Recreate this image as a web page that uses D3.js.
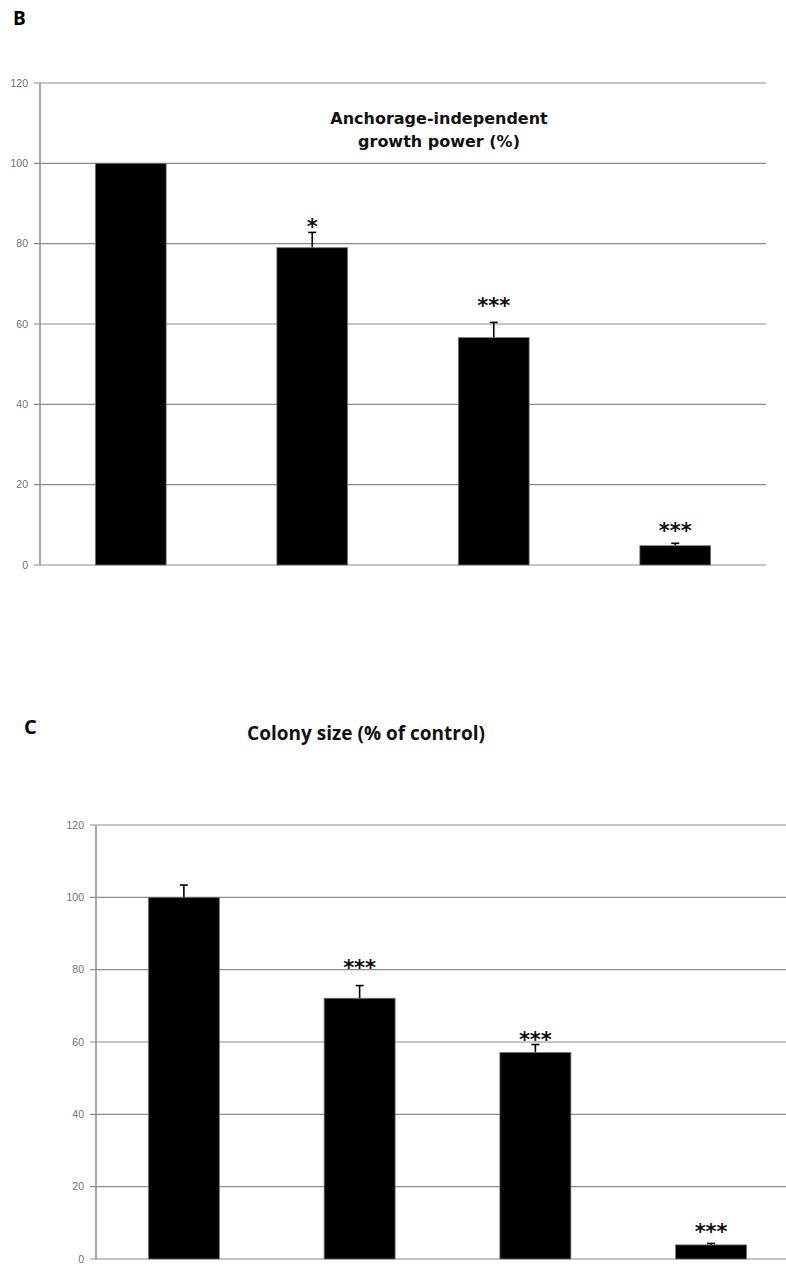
<!DOCTYPE html>
<html>
<head>
  <title>Anchorage-independent growth and colony size</title>
  <script src="https://cdn.jsdelivr.net/npm/d3@7"></script>
  <style>
    body { margin: 0; background: #fff; }
  </style>
</head>
<body>
  <div id="chart"></div>
  <script>
    // data
    const groups = ["g1", "g2", "g3", "g4"]
    const yTicks = [0, 20, 40, 60, 80, 100, 120]

    const growthValues = [100, 79.0, 56.6, 4.8]
    const growthErrors = [0, 3.8, 3.8, 0.6]
    const growthStars = ["", "*", "***", "***"]
    const growthStarLevel = [0, 85.4, 65.7, 9.5]   // where the star label sits, in % units

    const colonyValues = [100, 72.1, 57.1, 3.9]
    const colonyErrors = [3.4, 3.5, 2.2, 0.4]
    const colonyStars = ["", "***", "***", "***"]
    const colonyStarLevel = [0, 81.8, 61.9, 8.6]

    const width = 786
    const height = 1265

    const svg = d3.select("#chart")
      .append("svg")
      .attr("width", width)
      .attr("height", height)

    function drawPanel(cfg) {
      const x = d3.scaleBand()
        .domain(groups)
        .range([cfg.left, cfg.right])
        .paddingInner(cfg.pad)
        .paddingOuter(cfg.pad / 2)

      const y = d3.scaleLinear()
        .domain([0, 120])
        .range([cfg.bottom, cfg.top])

      const g = svg.append("g")

      // gridlines
      g.append("g")
        .selectAll("line")
        .data(yTicks)
        .enter()
        .append("line")
        .attr("x1", cfg.left - 6)
        .attr("x2", cfg.gridEnd)
        .attr("y1", d => y(d))
        .attr("y2", d => y(d))
        .style("stroke", "#8c8c8c")
        .style("stroke-width", 1.2)

      // y axis line
      g.append("line")
        .attr("x1", cfg.left)
        .attr("x2", cfg.left)
        .attr("y1", y(120))
        .attr("y2", y(0))
        .style("stroke", "#8c8c8c")
        .style("stroke-width", 1.5)

      // tick labels
      g.append("g")
        .selectAll("text")
        .data(yTicks)
        .enter()
        .append("text")
        .attr("x", cfg.left - 12)
        .attr("y", d => y(d))
        .attr("dy", "0.35em")
        .attr("text-anchor", "end")
        .style("font-family", "Liberation Sans, Arial, sans-serif")
        .style("font-size", "10.5px")
        .style("fill", "#6a7080")
        .text(d => d)

      const bars = groups.map((k, i) => ({
        key: k, v: cfg.values[i], e: cfg.errors[i], s: cfg.stars[i], lvl: cfg.starLevel[i]
      }))

      // error bars (drawn first so bar covers the lower half)
      const err = g.append("g").selectAll("g")
        .data(bars.filter(d => d.e > 0))
        .enter()
        .append("g")
      err.append("line")
        .attr("x1", d => x(d.key) + x.bandwidth() / 2)
        .attr("x2", d => x(d.key) + x.bandwidth() / 2)
        .attr("y1", d => y(d.v))
        .attr("y2", d => y(d.v + d.e))
        .style("stroke", "#000")
        .style("stroke-width", 1.6)
      err.append("line")
        .attr("x1", d => x(d.key) + x.bandwidth() / 2 - 4)
        .attr("x2", d => x(d.key) + x.bandwidth() / 2 + 4)
        .attr("y1", d => y(d.v + d.e))
        .attr("y2", d => y(d.v + d.e))
        .style("stroke", "#000")
        .style("stroke-width", 1.6)

      g.append("g")
        .selectAll("rect")
        .data(bars)
        .enter()
        .append("rect")
        .attr("x", d => x(d.key))
        .attr("width", x.bandwidth())
        .attr("y", d => y(d.v))
        .attr("height", d => y(0) - y(d.v))
        .style("fill", "#000")
        .style("stroke", "#777")
        .style("stroke-width", 0.8)

      // significance stars
      g.append("g")
        .selectAll("text")
        .data(bars.filter(d => d.s))
        .enter()
        .append("text")
        .attr("x", d => x(d.key) + x.bandwidth() / 2)
        .attr("y", d => y(d.lvl))
        .attr("dy", "0.55em")
        .attr("text-anchor", "middle")
        .style("font-family", "DejaVu Sans, sans-serif")
        .style("font-weight", "bold")
        .style("font-size", "21px")
        .style("fill", "#111")
        .text(d => d.s)
    }

    // panel B
    drawPanel({
      left: 40, right: 766, gridEnd: 766, top: 83, bottom: 565, pad: 0.61,
      values: growthValues, errors: growthErrors, stars: growthStars, starLevel: growthStarLevel
    })

    svg.append("text")
      .attr("x", 13)
      .attr("y", 25)
      .style("font-family", "Open Sans, sans-serif")
      .style("font-weight", "bold")
      .style("font-size", "19px")
      .text("B")

    const titleB = svg.append("text")
      .attr("text-anchor", "middle")
      .style("font-family", "DejaVu Sans, sans-serif")
      .style("font-weight", "bold")
      .style("font-size", "16px")
      .style("fill", "#111")
    titleB.append("tspan").attr("x", 439).attr("y", 124).text("Anchorage-independent")
    titleB.append("tspan").attr("x", 439).attr("y", 147).text("growth power (%)")

    // panel C
    drawPanel({
      left: 96, right: 799, gridEnd: 786, top: 825, bottom: 1259, pad: 0.596,
      values: colonyValues, errors: colonyErrors, stars: colonyStars, starLevel: colonyStarLevel
    })

    svg.append("text")
      .attr("x", 24)
      .attr("y", 734)
      .style("font-family", "Open Sans, sans-serif")
      .style("font-weight", "bold")
      .style("font-size", "20px")
      .text("C")

    svg.append("text")
      .attr("x", 366)
      .attr("y", 740)
      .attr("text-anchor", "middle")
      .style("font-family", "Open Sans, sans-serif")
      .style("font-weight", "bold")
      .style("font-size", "19px")
      .style("fill", "#111")
      .text("Colony size (% of control)")
  </script>
</body>
</html>
